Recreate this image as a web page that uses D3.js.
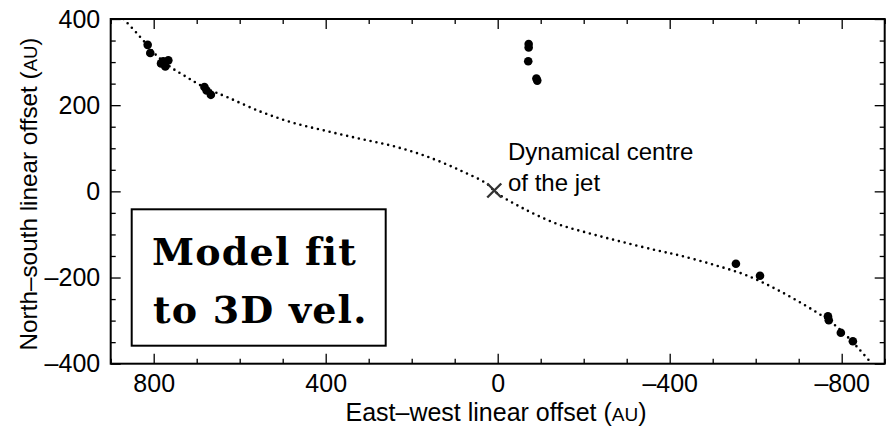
<!DOCTYPE html>
<html>
<head>
<meta charset="utf-8">
<script src="https://cdn.jsdelivr.net/npm/d3@7"></script>
<style>
    body { margin: 0; background: #fff; }
    svg { display: block; }
    .tick text { font-family: "Liberation Sans", Arial, sans-serif; }
</style>
</head>
<body>
<div id="chart"></div>
<script>
// Observed knots (AU): east-west offset, north-south offset
const knotX = [814, 808, 783, 773, 766, 778, 682, 677, 667,
               -72, -72, -71, -90, -92,
               -554, -610, -768, -770, -798, -826];
const knotY = [340, 321, 297, 290, 304, 302, 242, 234, 224,
               342, 334, 302, 262, 257,
               -168, -196, -290, -299, -328, -348];

// Model fit curve (AU)
const modelX = [870, 840, 812, 793, 760, 723, 680, 630, 549, 475, 398, 320, 243, 165, 88, 26, 2,
                -60, -137, -215, -292, -370, -424, -501, -579, -657, -734, -780, -812, -843, -870];
const modelY = [400, 368, 336, 315, 288, 265, 240, 219, 184, 159, 140, 122, 105, 81, 49, 18, -4,
                -40, -75, -98, -118, -137, -149, -170, -195, -232, -276, -307, -336, -369, -400];

// Dynamical centre of the jet
const centre = [8, 2];

// Axis ticks
const xMajor = [800, 400, 0, -400, -800];
const xMinor = [900, 700, 600, 500, 300, 200, 100, -100, -200, -300, -500, -600, -700, -900];
const yMajor = [400, 200, 0, -200, -400];
const yMinor = [350, 300, 250, 150, 100, 50, -50, -100, -150, -250, -300, -350];

const width = 889;
const height = 427;
const plotLeft = 110.7, plotRight = 884.7, plotTop = 19, plotBottom = 363.7;

const svg = d3.select("#chart")
    .append("svg")
    .attr("width", width)
    .attr("height", height);

const x = d3.scaleLinear().domain([900, -900]).range([plotLeft, plotRight]);
const y = d3.scaleLinear().domain([400, -400]).range([plotTop, plotBottom]);

const fmt = d => d < 0 ? "\u2013" + Math.abs(d) : String(d);

// clip for the model curve
svg.append("clipPath").attr("id", "plot-clip")
    .append("rect")
    .attr("x", plotLeft).attr("y", plotTop)
    .attr("width", plotRight - plotLeft).attr("height", plotBottom - plotTop);

// minor ticks (no labels) on all four sides
function minor(axis, vals, tx, ty) {
    svg.append("g")
        .attr("transform", `translate(${tx},${ty})`)
        .call(axis.tickValues(vals).tickSize(-5).tickSizeOuter(0).tickFormat(""));
}
minor(d3.axisBottom(x), xMinor, 0, plotBottom);
minor(d3.axisTop(x), xMinor, 0, plotTop);
minor(d3.axisLeft(y), yMinor, plotLeft, 0);
minor(d3.axisRight(y), yMinor, plotRight, 0);

// major ticks
svg.append("g")
    .attr("transform", `translate(0,${plotBottom})`)
    .call(d3.axisBottom(x).tickValues(xMajor).tickSize(-10).tickSizeOuter(0).tickPadding(10.5).tickFormat(fmt));
svg.append("g")
    .attr("transform", `translate(${plotLeft},0)`)
    .call(d3.axisLeft(y).tickValues(yMajor).tickSize(-10).tickSizeOuter(0).tickPadding(10.5).tickFormat(fmt));
svg.append("g")
    .attr("transform", `translate(0,${plotTop})`)
    .call(d3.axisTop(x).tickValues(xMajor).tickSize(-10).tickSizeOuter(0).tickFormat(""));
svg.append("g")
    .attr("transform", `translate(${plotRight},0)`)
    .call(d3.axisRight(y).tickValues(yMajor).tickSize(-10).tickSizeOuter(0).tickFormat(""));

svg.selectAll(".domain").remove();
svg.selectAll(".tick line").attr("stroke", "#000").attr("stroke-width", 1.3);
svg.selectAll(".tick text").attr("font-size", 25).attr("fill", "#000");

// frame
svg.append("rect")
    .attr("x", plotLeft).attr("y", plotTop)
    .attr("width", plotRight - plotLeft).attr("height", plotBottom - plotTop)
    .attr("fill", "none").attr("stroke", "#000").attr("stroke-width", 2);

// axis titles
const xTitle = svg.append("text")
    .attr("x", 496).attr("y", 421)
    .attr("text-anchor", "middle")
    .attr("font-family", "Liberation Sans, Arial, sans-serif")
    .attr("font-size", 25);
xTitle.append("tspan").text("East\u2013west linear offset (");
xTitle.append("tspan").attr("font-size", 19).text("AU");
xTitle.append("tspan").text(")");

const yTitle = svg.append("text")
    .attr("transform", `translate(37,194) rotate(-90)`)
    .attr("text-anchor", "middle")
    .attr("font-family", "Liberation Sans, Arial, sans-serif")
    .attr("font-size", 24.3);
yTitle.append("tspan").text("North\u2013south linear offset (");
yTitle.append("tspan").attr("font-size", 18.5).text("AU");
yTitle.append("tspan").text(")");

// dotted model curve
const model = modelX.map((d, i) => [d, modelY[i]]);
svg.append("path")
    .datum(model)
    .attr("clip-path", "url(#plot-clip)")
    .attr("d", d3.line().x(d => x(d[0])).y(d => y(d[1])).curve(d3.curveCatmullRom))
    .attr("fill", "none")
    .attr("stroke", "#000")
    .attr("stroke-width", 2.6)
    .attr("stroke-linecap", "round")
    .attr("stroke-dasharray", "0 6");

// knots
const knots = knotX.map((d, i) => [d, knotY[i]]);
svg.selectAll(".knot")
    .data(knots)
    .enter()
    .append("circle")
    .attr("class", "knot")
    .attr("cx", d => x(d[0]))
    .attr("cy", d => y(d[1]))
    .attr("r", 4.3)
    .attr("fill", "#000");

// centre marker
const cx = x(centre[0]), cy = y(centre[1]), s = 7;
svg.append("path")
    .attr("d", `M${cx - s},${cy - s}L${cx + s},${cy + s}M${cx - s},${cy + s}L${cx + s},${cy - s}`)
    .attr("stroke", "#333")
    .attr("stroke-width", 2.4);

const note = svg.append("text")
    .attr("font-family", "Liberation Sans, Arial, sans-serif")
    .attr("font-size", 24)
    .attr("fill", "#000");
note.append("tspan").attr("x", 508).attr("y", 160).text("Dynamical centre");
note.append("tspan").attr("x", 508).attr("y", 191).text("of the jet");

// label box
svg.append("rect")
    .attr("x", 131.7).attr("y", 209.3)
    .attr("width", 254).attr("height", 136.4)
    .attr("fill", "#fff").attr("stroke", "#000").attr("stroke-width", 2);

const boxText = svg.append("text")
    .attr("font-family", "DejaVu Serif, serif")
    .attr("font-weight", "bold")
    .attr("font-size", 38)
    .attr("letter-spacing", 1.2)
    .attr("fill", "#000");
boxText.append("tspan").attr("x", 152).attr("y", 265).text("Model fit");
boxText.append("tspan").attr("x", 153).attr("y", 323).text("to 3D vel.");
</script>
</body>
</html>
